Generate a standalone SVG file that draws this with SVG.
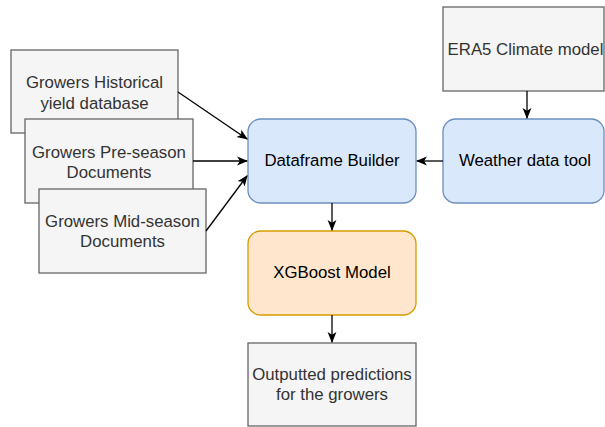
<svg xmlns="http://www.w3.org/2000/svg" width="605" height="427" viewBox="0 0 605 427">
<defs>
<marker id="arr" viewBox="0 0 10 10" refX="9" refY="5" markerWidth="11" markerHeight="11" markerUnits="userSpaceOnUse" orient="auto">
<path d="M0,1 L10,5 L0,9 L2.5,5 Z" fill="#000"/>
</marker>
</defs>
<style>
.gray{fill:#f5f5f5;stroke:#666666;stroke-width:1.3}
.blue{fill:#dae8fc;stroke:#6c8ebf;stroke-width:1.3}
.orange{fill:#ffe6cc;stroke:#d79b00;stroke-width:1.3}
text{font-family:"Liberation Sans",Arial,sans-serif;font-size:16.8px;text-anchor:middle}
.tg{fill:#333333}
.tb{fill:#000000}
.edge{stroke:#000;stroke-width:1.3;fill:none;marker-end:url(#arr)}
</style>
<rect width="605" height="427" fill="#ffffff"/>
<g id="hist">
<rect class="gray" x="11" y="50" width="167" height="83"/>
<text class="tg" x="94.5" y="87.5">Growers Historical</text>
<text class="tg" x="94.5" y="108.5">yield database</text>
</g>
<g id="pre">
<rect class="gray" x="25" y="119" width="168" height="84"/>
<text class="tg" x="109" y="157.5">Growers Pre-season</text>
<text class="tg" x="109" y="177.5">Documents</text>
</g>
<g id="mid">
<rect class="gray" x="39" y="189" width="167" height="84"/>
<text class="tg" x="122.5" y="227">Growers Mid-season</text>
<text class="tg" x="122.5" y="247">Documents</text>
</g>
<g id="era5">
<rect class="gray" x="443" y="7" width="161" height="84"/>
<text class="tg" x="525.5" y="55">ERA5 Climate model</text>
</g>
<g id="df">
<rect class="blue" x="248" y="119" width="168" height="84" rx="12.6"/>
<text class="tb" x="332" y="166">Dataframe Builder</text>
</g>
<g id="weather">
<rect class="blue" x="443" y="119" width="161" height="84" rx="12.6"/>
<text class="tb" x="525" y="166">Weather data tool</text>
</g>
<g id="xgb">
<rect class="orange" x="248" y="231" width="168" height="84" rx="12.6"/>
<text class="tb" x="332" y="278">XGBoost Model</text>
</g>
<g id="out">
<rect class="gray" x="248" y="343" width="168" height="83"/>
<text class="tg" x="332" y="380">Outputted predictions</text>
<text class="tg" x="332" y="400">for the growers</text>
</g>
<g id="connectors">
<line class="edge" x1="178" y1="92" x2="247" y2="139"/>
<line class="edge" x1="193" y1="161" x2="247" y2="161"/>
<line class="edge" x1="206" y1="231" x2="247" y2="176"/>
<line class="edge" x1="527" y1="91" x2="527" y2="118"/>
<line class="edge" x1="443" y1="161" x2="417" y2="161"/>
<line class="edge" x1="332" y1="203" x2="332" y2="230"/>
<line class="edge" x1="332" y1="315" x2="332" y2="342"/>
</g>
</svg>
